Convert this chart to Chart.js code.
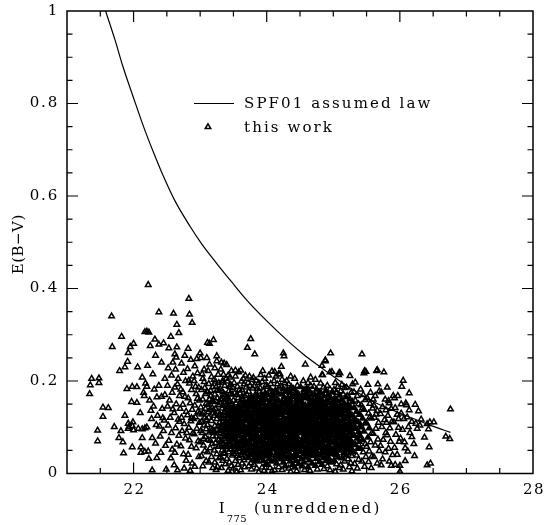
<!DOCTYPE html>
<html>
<head>
<meta charset="utf-8">
<script src="https://cdn.jsdelivr.net/npm/chart.js"></script>
<style>
  html, body { margin: 0; padding: 0; background: #fff; }
  canvas { display: block; }
</style>
</head>
<body>
<canvas id="c" width="545" height="525"></canvas>
<script>
// --- DATOS ---
// curva SPF01 (leída a ojo del gráfico)
const lawX = [21.58, 21.72, 21.84, 22.00, 22.15, 22.30, 22.45, 22.62, 22.85, 23.02, 23.25, 23.48, 23.70, 24.00, 24.30, 24.55, 24.80, 25.05, 25.30, 25.65, 25.92, 26.20, 26.48, 26.76];
const lawY = [1.000, 0.938, 0.880, 0.812, 0.750, 0.694, 0.642, 0.590, 0.534, 0.497, 0.454, 0.413, 0.375, 0.330, 0.289, 0.258, 0.231, 0.205, 0.181, 0.152, 0.135, 0.119, 0.103, 0.089];

const xTickLabels = [22, 24, 26, 28];
const yTickLabels = [0, 0.2, 0.4, 0.6, 0.8, 1];

// puntos "this work", [I775, E(B-V)], por zonas
const leftPts = [
  [21.37,0.205],[21.48,0.206],[21.35,0.191],[21.48,0.196],[21.34,0.172],[21.46,0.093],[21.46,0.070],
  [21.54,0.143],[21.62,0.142],[21.54,0.123],[21.67,0.340],[21.68,0.274],[21.82,0.296],[21.71,0.101],[21.87,0.125],[21.85,0.044],
  [21.81,0.092],[21.78,0.077],[21.84,0.068],[21.92,0.097],[21.92,0.108],[21.99,0.111],[21.98,0.103],[21.98,0.057],[21.90,0.183],
  [21.98,0.188],[21.97,0.155],[21.91,0.242],[21.87,0.230],[21.79,0.222],[21.92,0.261],[21.95,0.274],[21.93,0.101],[22.00,0.094],
  [22.22,0.408],[22.38,0.349],[22.17,0.306],[22.20,0.307],[22.23,0.305],[22.32,0.290],[22.00,0.281],[22.25,0.276],[22.38,0.279],
  [22.45,0.282],[22.33,0.255],[22.06,0.230],[22.21,0.233],[22.05,0.187],[22.05,0.153],[22.10,0.131],[22.26,0.136],[22.15,0.175],
  [22.18,0.195],[22.13,0.208],[22.20,0.188],[22.16,0.168],[22.35,0.165],[22.42,0.166],[22.47,0.170],[22.34,0.105],[22.20,0.100],
  [22.17,0.098],[22.13,0.096],[22.07,0.097],[22.11,0.057],[22.13,0.077],[22.17,0.047],[22.22,0.048],[22.11,0.045],[22.23,0.032],
  [22.35,0.034],[22.28,0.007],[22.49,0.009],[22.33,0.065],[22.28,0.077],[22.40,0.080],[22.44,0.120],[22.30,0.145],[22.38,0.190],
  [22.47,0.205],[22.29,0.215],[22.42,0.240],[22.46,0.115],[22.48,0.060],[22.41,0.045],[22.24,0.158],[22.36,0.125],[22.27,0.118],
  [22.43,0.140],[22.31,0.182],[22.45,0.092],[22.39,0.102]
];

const midPts = [
  [22.53,0.271],[22.56,0.296],[22.60,0.346],[22.52,0.228],[22.57,0.212],[22.51,0.190],[22.58,0.175],[22.54,0.158],[22.59,0.139],
  [22.55,0.121],[22.52,0.104],[22.57,0.088],[22.53,0.071],[22.58,0.052],[22.56,0.033],[22.51,0.145],[22.59,0.240],
  [22.62,0.258],[22.64,0.251],[22.65,0.322],[22.65,0.273],[22.68,0.304],[22.61,0.018],[22.66,0.007],[22.63,0.225],[22.67,0.205],
  [22.62,0.186],[22.69,0.168],[22.64,0.150],[22.61,0.131],[22.67,0.117],[22.63,0.098],[22.68,0.082],[22.65,0.063],[22.62,0.045],
  [22.69,0.112],[22.66,0.193],
  [22.76,0.011],[22.72,0.238],[22.75,0.218],[22.78,0.200],[22.71,0.182],[22.77,0.166],[22.74,0.149],[22.79,0.134],[22.72,0.121],
  [22.76,0.107],[22.73,0.092],[22.78,0.076],[22.71,0.059],[22.75,0.042],[22.79,0.028],[22.74,0.176],[22.77,0.255],[22.70,0.140],
  [22.83,0.378],[22.84,0.344],[22.88,0.326],[22.82,0.270],[22.86,0.246],[22.81,0.226],[22.89,0.210],[22.84,0.195],[22.87,0.181],
  [22.82,0.163],[22.85,0.152],[22.88,0.138],[22.81,0.126],[22.86,0.113],[22.83,0.099],[22.89,0.087],[22.84,0.072],[22.87,0.058],
  [22.82,0.041],[22.88,0.022],[22.85,0.006],[22.80,0.088],[22.87,0.120],[22.83,0.201],
  [22.92,0.232],[22.96,0.217],[22.91,0.200],[22.98,0.186],[22.94,0.172],[22.99,0.158],[22.92,0.147],[22.97,0.134],[22.93,0.122],
  [22.99,0.110],[22.95,0.097],[22.91,0.085],[22.97,0.070],[22.94,0.055],[22.98,0.036],[22.92,0.015],[22.96,0.162],[22.93,0.188],
  [22.99,0.130],[22.95,0.248],[22.90,0.118],
  [23.00,0.260],[23.01,0.250],[23.03,0.215],[23.06,0.198],[23.02,0.181],[23.08,0.172],[23.04,0.160],[23.09,0.151],[23.01,0.143],
  [23.05,0.132],[23.07,0.121],[23.02,0.112],[23.06,0.104],[23.09,0.096],[23.03,0.088],[23.08,0.079],[23.00,0.068],[23.05,0.061],
  [23.07,0.049],[23.02,0.038],[23.09,0.027],[23.04,0.016],[23.06,0.225],[23.08,0.140],[23.01,0.092],[23.04,0.205],[23.07,0.185],
  [23.03,0.128],[23.09,0.116],[23.05,0.075],
  [23.10,0.250],[23.11,0.283],[23.14,0.281],[23.14,0.236],[23.12,0.222],[23.17,0.209],[23.13,0.194],[23.19,0.187],[23.11,0.176],
  [23.16,0.168],[23.18,0.157],[23.12,0.149],[23.15,0.138],[23.19,0.130],[23.13,0.121],[23.17,0.114],[23.11,0.105],[23.16,0.097],
  [23.14,0.089],[23.19,0.081],[23.12,0.073],[23.18,0.064],[23.15,0.055],[23.11,0.046],[23.17,0.036],[23.13,0.024],[23.19,0.012],
  [23.16,0.179],[23.14,0.160],[23.18,0.142],[23.12,0.133],[23.17,0.092],[23.15,0.071],[23.10,0.115],
  [23.20,0.289],[23.25,0.254],[23.25,0.243],[23.22,0.228],[23.27,0.214],[23.21,0.203],[23.28,0.196],[23.24,0.187],[23.29,0.179],
  [23.22,0.171],[23.26,0.163],[23.20,0.155],[23.28,0.148],[23.23,0.140],[23.27,0.133],[23.21,0.125],[23.25,0.118],[23.29,0.110],
  [23.22,0.103],[23.26,0.095],[23.20,0.088],[23.24,0.080],[23.28,0.073],[23.23,0.066],[23.27,0.058],[23.21,0.050],[23.25,0.042],
  [23.29,0.033],[23.22,0.024],[23.26,0.015],[23.24,0.008],[23.23,0.157],[23.28,0.126],[23.21,0.091],[23.26,0.181],[23.29,0.061],
  [23.23,0.199],[23.27,0.102],[23.20,0.137],
  [23.32,0.240],[23.36,0.238],[23.31,0.225],[23.35,0.214],[23.39,0.205],[23.33,0.197],[23.37,0.190],[23.30,0.183],[23.34,0.176],
  [23.38,0.169],[23.31,0.162],[23.36,0.155],[23.39,0.148],[23.33,0.141],[23.37,0.134],[23.30,0.127],[23.35,0.120],[23.39,0.113],
  [23.32,0.106],[23.36,0.099],[23.30,0.092],[23.34,0.085],[23.38,0.078],[23.31,0.071],[23.35,0.064],[23.39,0.057],[23.33,0.050],
  [23.37,0.043],[23.30,0.036],[23.34,0.028],[23.38,0.020],[23.32,0.012],[23.36,0.171],[23.33,0.118],[23.38,0.137],[23.31,0.087],
  [23.37,0.058],[23.35,0.146],[23.32,0.159],[23.39,0.095],[23.34,0.201],[23.36,0.075],
  [23.40,0.235],[23.42,0.212],[23.45,0.208],[23.47,0.222],[23.41,0.199],[23.46,0.192],[23.49,0.185],[23.43,0.178],[23.48,0.171],
  [23.40,0.165],[23.44,0.158],[23.47,0.151],[23.42,0.145],[23.49,0.138],[23.45,0.132],[23.41,0.125],[23.46,0.119],[23.43,0.112],
  [23.48,0.106],[23.40,0.099],[23.44,0.093],[23.47,0.086],[23.42,0.080],[23.49,0.073],[23.45,0.067],[23.41,0.060],[23.46,0.053],
  [23.43,0.046],[23.48,0.039],[23.40,0.032],[23.44,0.024],[23.47,0.016],[23.42,0.006],[23.45,0.172],[23.48,0.148],[23.41,0.141],
  [23.46,0.101],[23.43,0.068],[23.49,0.116],[23.44,0.188],[23.47,0.128],[23.42,0.094],[23.40,0.052],[23.48,0.078],[23.45,0.155]
];

const corePts = [
  [23.53,0.223],[23.58,0.219],[23.53,0.210],[23.51,0.196],[23.56,0.188],[23.59,0.181],[23.52,0.174],[23.55,0.170],[23.57,0.163],
  [23.50,0.158],[23.54,0.152],[23.58,0.147],[23.51,0.141],[23.56,0.137],[23.53,0.131],[23.59,0.127],[23.50,0.121],[23.55,0.117],
  [23.57,0.112],[23.52,0.106],[23.58,0.101],[23.54,0.097],[23.51,0.092],[23.56,0.087],[23.59,0.082],[23.53,0.078],[23.50,0.072],
  [23.55,0.068],[23.57,0.062],[23.52,0.057],[23.58,0.053],[23.54,0.047],[23.51,0.043],[23.56,0.038],[23.59,0.033],[23.53,0.027],
  [23.57,0.019],[23.50,0.011],[23.55,0.004],[23.52,0.135],[23.58,0.115],[23.54,0.084],
  [23.61,0.223],[23.65,0.205],[23.68,0.212],[23.62,0.199],[23.66,0.193],[23.69,0.186],[23.63,0.180],[23.60,0.173],[23.67,0.168],
  [23.64,0.161],[23.61,0.156],[23.68,0.150],[23.65,0.145],[23.62,0.139],[23.69,0.134],[23.66,0.129],[23.63,0.124],[23.60,0.118],
  [23.67,0.114],[23.64,0.108],[23.61,0.103],[23.68,0.098],[23.65,0.093],[23.62,0.089],[23.69,0.084],[23.66,0.079],[23.63,0.074],
  [23.60,0.069],[23.67,0.064],[23.64,0.059],[23.61,0.054],[23.68,0.049],[23.65,0.044],[23.62,0.039],[23.69,0.034],[23.66,0.029],
  [23.63,0.022],[23.67,0.014],[23.61,0.007],[23.64,0.132],[23.60,0.095],[23.66,0.061],[23.63,0.165],
  [23.76,0.291],[23.71,0.272],[23.74,0.210],[23.78,0.203],[23.72,0.196],[23.75,0.190],[23.79,0.184],[23.73,0.177],[23.70,0.171],
  [23.77,0.166],[23.74,0.160],[23.71,0.154],[23.78,0.149],[23.75,0.143],[23.72,0.138],[23.79,0.132],[23.76,0.127],[23.73,0.121],
  [23.70,0.116],[23.77,0.111],[23.74,0.105],[23.71,0.100],[23.78,0.095],[23.75,0.090],[23.72,0.085],[23.79,0.080],[23.76,0.075],
  [23.73,0.070],[23.70,0.065],[23.77,0.060],[23.74,0.055],[23.71,0.050],[23.78,0.045],[23.75,0.040],[23.72,0.035],[23.79,0.029],
  [23.76,0.023],[23.73,0.016],[23.77,0.009],[23.70,0.140],[23.78,0.118],[23.73,0.088],[23.76,0.057],
  [23.82,0.258],[23.80,0.207],[23.84,0.201],[23.88,0.196],[23.81,0.189],[23.86,0.183],[23.89,0.177],[23.83,0.171],[23.87,0.166],
  [23.80,0.160],[23.85,0.155],[23.88,0.150],[23.82,0.144],[23.86,0.139],[23.89,0.134],[23.83,0.128],[23.87,0.123],[23.81,0.118],
  [23.84,0.113],[23.88,0.108],[23.82,0.102],[23.85,0.097],[23.89,0.092],[23.83,0.087],[23.86,0.082],[23.80,0.077],[23.84,0.072],
  [23.87,0.067],[23.81,0.062],[23.85,0.057],[23.88,0.052],[23.82,0.047],[23.86,0.042],[23.89,0.037],[23.83,0.032],[23.87,0.026],
  [23.81,0.019],[23.85,0.011],[23.88,0.003],[23.84,0.136],[23.80,0.110],[23.87,0.094],[23.83,0.064],
  [23.94,0.222],[23.91,0.213],[23.97,0.205],[23.93,0.198],[23.99,0.191],[23.90,0.185],[23.95,0.179],[23.98,0.173],[23.92,0.167],
  [23.96,0.162],[23.90,0.156],[23.94,0.151],[23.98,0.146],[23.91,0.140],[23.95,0.135],[23.99,0.130],[23.93,0.124],[23.97,0.119],
  [23.90,0.114],[23.94,0.109],[23.98,0.104],[23.92,0.099],[23.96,0.094],[23.99,0.089],[23.93,0.084],[23.97,0.079],[23.91,0.074],
  [23.95,0.069],[23.98,0.064],[23.92,0.059],[23.96,0.054],[23.90,0.049],[23.94,0.044],[23.97,0.039],[23.91,0.034],[23.95,0.028],
  [23.99,0.021],[23.93,0.013],[23.96,0.006],[23.92,0.128],[23.98,0.112],[23.95,0.081],[23.91,0.092],
  [24.08,0.221],[24.03,0.212],[24.06,0.194],[24.01,0.188],[24.05,0.182],[24.09,0.176],[24.02,0.170],[24.07,0.164],[24.00,0.159],
  [24.04,0.153],[24.08,0.148],[24.01,0.143],[24.06,0.138],[24.09,0.132],[24.03,0.127],[24.07,0.122],[24.00,0.117],[24.05,0.112],
  [24.08,0.107],[24.02,0.102],[24.06,0.097],[24.09,0.092],[24.03,0.087],[24.07,0.082],[24.01,0.077],[24.04,0.072],[24.08,0.067],
  [24.02,0.062],[24.05,0.057],[24.09,0.052],[24.03,0.047],[24.06,0.042],[24.00,0.037],[24.04,0.032],[24.07,0.026],[24.01,0.019],
  [24.05,0.012],[24.08,0.005],[24.04,0.120],[24.00,0.098],[24.07,0.150],[24.02,0.080],[24.06,0.061],
  [24.12,0.220],[24.14,0.210],[24.18,0.215],[24.11,0.200],[24.16,0.193],[24.19,0.186],[24.13,0.180],[24.17,0.174],[24.10,0.168],
  [24.15,0.162],[24.18,0.157],[24.12,0.151],[24.16,0.146],[24.19,0.141],[24.13,0.135],[24.17,0.130],[24.11,0.125],[24.14,0.120],
  [24.18,0.115],[24.12,0.110],[24.15,0.105],[24.19,0.100],[24.13,0.095],[24.16,0.090],[24.10,0.085],[24.14,0.080],[24.17,0.075],
  [24.11,0.070],[24.15,0.065],[24.18,0.060],[24.12,0.055],[24.16,0.050],[24.19,0.045],[24.13,0.040],[24.17,0.035],[24.11,0.029],
  [24.15,0.022],[24.18,0.014],[24.12,0.007],[24.16,0.118],[24.10,0.143],[24.14,0.097],[24.18,0.071],
  [24.22,0.231],[24.25,0.260],[24.26,0.254],[24.20,0.215],[24.23,0.203],[24.27,0.196],[24.21,0.189],[24.25,0.183],[24.28,0.177],
  [24.22,0.171],[24.26,0.165],[24.29,0.159],[24.23,0.154],[24.27,0.148],[24.20,0.143],[24.24,0.138],[24.28,0.132],[24.21,0.127],
  [24.25,0.122],[24.29,0.117],[24.22,0.112],[24.26,0.107],[24.20,0.102],[24.23,0.097],[24.27,0.092],[24.21,0.087],[24.24,0.082],
  [24.28,0.077],[24.22,0.072],[24.25,0.067],[24.29,0.062],[24.23,0.057],[24.26,0.052],[24.20,0.047],[24.24,0.042],[24.27,0.037],
  [24.21,0.031],[24.25,0.024],[24.28,0.016],[24.23,0.008],[24.26,0.135],[24.21,0.110],[24.28,0.090],[24.24,0.064],
  [24.30,0.200],[24.33,0.193],[24.37,0.187],[24.31,0.181],[24.35,0.175],[24.39,0.169],[24.32,0.164],[24.36,0.158],[24.30,0.153],
  [24.34,0.148],[24.38,0.142],[24.31,0.137],[24.35,0.132],[24.39,0.127],[24.33,0.122],[24.37,0.117],[24.30,0.112],[24.34,0.107],
  [24.38,0.102],[24.32,0.097],[24.36,0.092],[24.39,0.087],[24.33,0.082],[24.37,0.077],[24.31,0.072],[24.35,0.067],[24.38,0.062],
  [24.32,0.057],[24.36,0.052],[24.30,0.047],[24.34,0.042],[24.37,0.037],[24.31,0.032],[24.35,0.026],[24.39,0.019],[24.33,0.011],
  [24.36,0.004],[24.32,0.145],[24.38,0.120],[24.34,0.094],[24.30,0.070],[24.36,0.210],
  [24.42,0.205],[24.46,0.190],[24.40,0.183],[24.44,0.177],[24.48,0.171],[24.41,0.165],[24.45,0.160],[24.49,0.154],[24.43,0.149],
  [24.47,0.144],[24.40,0.139],[24.44,0.134],[24.48,0.129],[24.42,0.124],[24.46,0.119],[24.49,0.114],[24.43,0.109],[24.47,0.104],
  [24.41,0.099],[24.45,0.094],[24.48,0.089],[24.42,0.084],[24.46,0.079],[24.40,0.074],[24.44,0.069],[24.47,0.064],[24.41,0.059],
  [24.45,0.054],[24.49,0.049],[24.43,0.044],[24.46,0.039],[24.40,0.034],[24.44,0.028],[24.48,0.021],[24.42,0.013],[24.45,0.005],
  [24.47,0.131],[24.41,0.112],[24.43,0.087],[24.48,0.062],[24.45,0.168],
  [24.58,0.236],[24.55,0.200],[24.51,0.187],[24.56,0.181],[24.59,0.175],[24.53,0.169],[24.57,0.163],[24.50,0.158],[24.54,0.152],
  [24.58,0.147],[24.52,0.142],[24.55,0.137],[24.59,0.132],[24.53,0.127],[24.56,0.122],[24.50,0.117],[24.54,0.112],[24.57,0.107],
  [24.51,0.102],[24.55,0.097],[24.58,0.092],[24.52,0.087],[24.56,0.082],[24.59,0.077],[24.53,0.072],[24.57,0.067],[24.50,0.062],
  [24.54,0.057],[24.58,0.052],[24.51,0.047],[24.55,0.042],[24.59,0.037],[24.52,0.031],[24.56,0.024],[24.53,0.016],[24.57,0.008],
  [24.54,0.140],[24.50,0.095],[24.58,0.115],[24.52,0.060],
  [24.62,0.196],[24.66,0.190],[24.60,0.184],[24.64,0.178],[24.68,0.172],[24.61,0.166],[24.65,0.161],[24.69,0.155],[24.63,0.150],
  [24.67,0.145],[24.60,0.140],[24.64,0.135],[24.68,0.130],[24.62,0.125],[24.66,0.120],[24.69,0.115],[24.63,0.110],[24.67,0.105],
  [24.61,0.100],[24.65,0.095],[24.68,0.090],[24.62,0.085],[24.66,0.080],[24.60,0.075],[24.64,0.070],[24.67,0.065],[24.61,0.060],
  [24.65,0.055],[24.69,0.050],[24.63,0.045],[24.66,0.040],[24.60,0.035],[24.64,0.029],[24.68,0.022],[24.62,0.014],[24.65,0.006],
  [24.67,0.142],[24.61,0.118],[24.63,0.088],[24.69,0.068],[24.66,0.208],
  [24.73,0.203],[24.71,0.188],[24.75,0.182],[24.79,0.176],[24.72,0.170],[24.76,0.164],[24.70,0.159],[24.74,0.153],[24.78,0.148],
  [24.71,0.143],[24.75,0.138],[24.79,0.133],[24.73,0.128],[24.77,0.123],[24.70,0.118],[24.74,0.113],[24.78,0.108],[24.72,0.103],
  [24.76,0.098],[24.79,0.093],[24.73,0.088],[24.77,0.083],[24.71,0.078],[24.75,0.073],[24.78,0.068],[24.72,0.063],[24.76,0.058],
  [24.70,0.053],[24.74,0.048],[24.77,0.043],[24.71,0.038],[24.75,0.032],[24.79,0.025],[24.73,0.017],[24.76,0.009],[24.78,0.135],
  [24.72,0.110],[24.74,0.080],[24.70,0.095],
  [24.88,0.245],[24.83,0.233],[24.88,0.243],[24.83,0.213],[24.84,0.213],[24.81,0.195],[24.85,0.186],[24.89,0.179],[24.82,0.173],
  [24.86,0.167],[24.80,0.161],[24.84,0.156],[24.87,0.150],[24.81,0.145],[24.85,0.140],[24.89,0.135],[24.83,0.130],[24.87,0.125],
  [24.80,0.120],[24.84,0.115],[24.88,0.110],[24.82,0.105],[24.86,0.100],[24.89,0.095],[24.83,0.090],[24.87,0.085],[24.81,0.080],
  [24.85,0.075],[24.88,0.070],[24.82,0.065],[24.86,0.060],[24.80,0.055],[24.84,0.050],[24.87,0.045],[24.81,0.040],[24.85,0.034],
  [24.89,0.027],[24.83,0.019],[24.86,0.010],[24.82,0.138],[24.88,0.118],[24.85,0.092],
  [24.96,0.260],[24.95,0.219],[24.98,0.220],[24.91,0.190],[24.95,0.182],[24.99,0.176],[24.92,0.170],[24.96,0.164],[24.90,0.158],
  [24.94,0.153],[24.98,0.147],[24.91,0.142],[24.95,0.137],[24.99,0.132],[24.93,0.127],[24.97,0.122],[24.90,0.117],[24.94,0.112],
  [24.98,0.107],[24.92,0.102],[24.96,0.097],[24.99,0.092],[24.93,0.087],[24.97,0.082],[24.91,0.077],[24.94,0.072],[24.98,0.067],
  [24.92,0.062],[24.95,0.057],[24.99,0.052],[24.93,0.047],[24.96,0.042],[24.90,0.037],[24.94,0.031],[24.97,0.024],[24.91,0.016],
  [24.95,0.007],[24.97,0.144],[24.93,0.108],[24.90,0.085],
  [25.09,0.218],[25.08,0.213],[25.03,0.196],[25.07,0.188],[25.01,0.181],[25.05,0.175],[25.09,0.169],[25.02,0.163],[25.06,0.157],
  [25.00,0.152],[25.04,0.146],[25.08,0.141],[25.01,0.136],[25.05,0.131],[25.09,0.126],[25.03,0.121],[25.07,0.116],[25.00,0.111],
  [25.04,0.106],[25.08,0.101],[25.02,0.096],[25.06,0.091],[25.09,0.086],[25.03,0.081],[25.07,0.076],[25.01,0.071],[25.05,0.066],
  [25.08,0.061],[25.02,0.056],[25.06,0.051],[25.00,0.046],[25.04,0.041],[25.07,0.035],[25.01,0.028],[25.05,0.020],[25.09,0.012],
  [25.03,0.004],[25.06,0.133],[25.02,0.104],[25.08,0.078],
  [25.10,0.217],[25.13,0.192],[25.17,0.185],[25.11,0.178],[25.15,0.171],[25.19,0.165],[25.12,0.159],[25.16,0.153],[25.10,0.147],
  [25.14,0.142],[25.18,0.136],[25.11,0.131],[25.15,0.126],[25.19,0.120],[25.13,0.115],[25.17,0.110],[25.10,0.105],[25.14,0.100],
  [25.18,0.095],[25.12,0.090],[25.16,0.085],[25.19,0.080],[25.13,0.075],[25.17,0.070],[25.11,0.065],[25.14,0.060],[25.18,0.055],
  [25.12,0.050],[25.16,0.045],[25.19,0.039],[25.13,0.033],[25.17,0.026],[25.11,0.018],[25.15,0.009],[25.16,0.118],[25.12,0.140],
  [25.20,0.186],[25.25,0.211],[25.27,0.175],[25.21,0.168],[25.25,0.161],[25.29,0.155],[25.22,0.149],[25.26,0.143],[25.20,0.137],
  [25.24,0.131],[25.28,0.126],[25.21,0.120],[25.25,0.114],[25.29,0.109],[25.23,0.103],[25.27,0.098],[25.20,0.093],[25.24,0.087],
  [25.28,0.082],[25.22,0.076],[25.26,0.071],[25.29,0.066],[25.23,0.060],[25.27,0.055],[25.21,0.050],[25.25,0.044],[25.28,0.038],
  [25.22,0.031],[25.26,0.023],[25.24,0.014],[25.28,0.005],[25.23,0.128],[25.26,0.092]
];

// zona más negra del núcleo
const corePts2 = [
  [23.31,0.098],[23.36,0.131],[23.33,0.067],[23.38,0.109],[23.35,0.044],[23.30,0.152],[23.37,0.082],[23.32,0.124],[23.39,0.061],
  [23.41,0.083],[23.46,0.137],[23.43,0.101],[23.48,0.058],[23.45,0.119],[23.40,0.144],[23.47,0.072],[23.42,0.162],[23.49,0.097],
  [23.52,0.088],[23.57,0.141],[23.54,0.064],[23.59,0.104],[23.56,0.125],[23.51,0.051],
  [23.62,0.112],[23.67,0.071],[23.65,0.152],[23.61,0.041],[23.69,0.121],[23.63,0.098],[23.66,0.046],[23.60,0.135],[23.68,0.083],
  [23.72,0.149],[23.77,0.102],[23.74,0.066],[23.79,0.157],[23.71,0.088],[23.76,0.041],[23.73,0.127],[23.78,0.074],[23.75,0.113],
  [23.81,0.098],[23.86,0.149],[23.83,0.053],[23.88,0.121],[23.85,0.079],[23.80,0.134],[23.87,0.036],[23.82,0.166],[23.89,0.067],
  [23.92,0.071],[23.97,0.141],[23.94,0.098],[23.99,0.048],[23.91,0.121],[23.96,0.086],[23.93,0.158],[23.98,0.059],[23.95,0.113],
  [24.01,0.131],[24.06,0.076],[24.03,0.104],[24.08,0.039],[24.05,0.145],[24.00,0.058],[24.07,0.115],[24.02,0.091],[24.09,0.162],
  [24.13,0.062],[24.18,0.129],[24.15,0.087],[24.11,0.148],[24.17,0.043],[24.12,0.102],[24.19,0.074],[24.14,0.136],[24.16,0.057],
  [24.21,0.079],[24.26,0.118],[24.23,0.045],[24.28,0.152],[24.25,0.094],[24.20,0.128],[24.27,0.058],[24.22,0.141],[24.29,0.103],
  [24.33,0.131],[24.38,0.081],[24.35,0.154],[24.31,0.063],[24.37,0.109],[24.32,0.036],[24.39,0.138],[24.34,0.074],[24.36,0.099],
  [24.41,0.143],[24.46,0.071],[24.43,0.118],[24.48,0.097],[24.45,0.038],[24.40,0.086],[24.47,0.157],[24.42,0.052],[24.49,0.126],
  [24.53,0.089],[24.58,0.129],[24.55,0.058],[24.51,0.134],[24.57,0.076],[24.52,0.109],[24.59,0.044],[24.54,0.164],[24.56,0.101],
  [24.61,0.073],[24.66,0.133],[24.63,0.061],[24.68,0.104],[24.65,0.148],[24.60,0.089],[24.67,0.047],[24.62,0.119],[24.69,0.083],
  [24.73,0.141],[24.78,0.088],[24.75,0.066],[24.71,0.119],[24.77,0.154],[24.72,0.047],[24.79,0.103],[24.74,0.131],[24.76,0.078],
  [24.81,0.108],[24.86,0.071],[24.83,0.147],[24.88,0.052],[24.85,0.124],[24.80,0.083],[24.87,0.098],[24.82,0.039],[24.89,0.141],
  [24.93,0.061],[24.98,0.119],[24.95,0.093],[24.91,0.131],[24.97,0.049],[24.92,0.081],[24.99,0.155],[24.94,0.104],[24.96,0.071],
  [25.01,0.089],[25.06,0.142],[25.03,0.067],[25.08,0.114],[25.05,0.043],[25.00,0.123],[25.07,0.096],[25.02,0.154],[25.09,0.058],
  [25.13,0.097],[25.18,0.063],[25.15,0.129],[25.11,0.052],[25.17,0.104],[25.12,0.078],[25.19,0.145],
  [25.21,0.097],[25.26,0.124],[25.23,0.071],[25.28,0.108],[25.25,0.052],[25.22,0.139],[25.29,0.083]
];

const tailPts = [
  [25.33,0.197],[25.29,0.193],[25.31,0.176],[25.36,0.168],[25.33,0.158],[25.38,0.150],[25.31,0.142],[25.35,0.134],[25.39,0.127],
  [25.32,0.119],[25.37,0.111],[25.30,0.104],[25.34,0.097],[25.38,0.090],[25.31,0.083],[25.36,0.076],[25.39,0.069],[25.33,0.062],
  [25.37,0.054],[25.30,0.047],[25.35,0.039],[25.38,0.030],[25.32,0.021],[25.36,0.011],[25.34,0.115],[25.31,0.063],
  [25.43,0.258],[25.46,0.217],[25.49,0.220],[25.47,0.222],[25.41,0.182],[25.45,0.170],[25.48,0.159],[25.42,0.148],[25.46,0.138],
  [25.40,0.128],[25.44,0.119],[25.48,0.109],[25.42,0.100],[25.46,0.091],[25.40,0.082],[25.44,0.073],[25.48,0.064],[25.41,0.055],
  [25.45,0.046],[25.49,0.036],[25.43,0.026],[25.47,0.015],[25.44,0.142],[25.41,0.105],
  [25.52,0.192],[25.56,0.175],[25.51,0.163],[25.55,0.151],[25.59,0.141],[25.53,0.130],[25.57,0.119],[25.50,0.109],[25.54,0.098],
  [25.58,0.088],[25.52,0.078],[25.56,0.068],[25.50,0.058],[25.54,0.048],[25.58,0.037],[25.53,0.025],[25.57,0.012],[25.55,0.122],
  [25.66,0.224],[25.65,0.222],[25.60,0.160],[25.67,0.193],[25.69,0.178],[25.63,0.168],[25.61,0.147],[25.66,0.136],[25.62,0.121],
  [25.68,0.110],[25.64,0.097],[25.60,0.086],[25.67,0.074],[25.63,0.061],[25.69,0.049],[25.61,0.036],[25.66,0.022],[25.64,0.128],
  [25.76,0.219],[25.72,0.176],[25.78,0.160],[25.74,0.144],[25.71,0.129],[25.77,0.116],[25.73,0.101],[25.79,0.088],[25.75,0.073],
  [25.71,0.060],[25.78,0.046],[25.74,0.031],[25.72,0.018],[25.79,0.137],
  [25.81,0.186],[25.83,0.157],[25.84,0.152],[25.87,0.140],[25.82,0.125],[25.88,0.112],[25.85,0.098],[25.81,0.083],[25.86,0.069],
  [25.83,0.054],[25.89,0.040],[25.84,0.026],[25.87,0.017],[25.80,0.110],
  [25.90,0.168],[25.92,0.163],[25.97,0.168],[25.93,0.142],[25.96,0.127],[25.91,0.111],[25.98,0.099],[25.94,0.084],[25.99,0.069],
  [25.92,0.056],[25.96,0.041],[25.93,0.019],[25.98,0.118],
  [26.05,0.201],[26.03,0.188],[26.14,0.174],[26.09,0.152],[26.10,0.148],[26.23,0.149],[26.76,0.139],[26.14,0.137],[26.28,0.135],
  [26.32,0.117],[26.45,0.111],[26.51,0.111],[26.41,0.107],[26.43,0.096],[26.24,0.108],[26.30,0.104],[26.26,0.097],[26.37,0.078],
  [26.69,0.080],[26.75,0.075],[26.21,0.064],[26.44,0.057],[26.08,0.055],[26.12,0.048],[26.22,0.038],[26.08,0.027],[26.41,0.018],
  [26.46,0.022],[26.00,0.017],[26.00,0.004],[26.02,0.130],[26.06,0.118],[26.11,0.122],[26.04,0.095],[26.15,0.088],[26.01,0.076],
  [26.07,0.068],[26.18,0.112],[26.13,0.101],[26.02,0.150],[26.18,0.079]
];

const toXY = p => ({ x: p[0], y: p[1] });
const thisWork = [...leftPts, ...midPts, ...corePts, ...corePts2, ...tailPts].map(toXY);
const law = lawX.map((x, i) => ({ x: x, y: lawY[i] }));

const SERIF = '"DejaVu Serif", "Liberation Serif", serif';
const TRI_R = 3.2;

// donde los triángulos se solapan tanto que el original se ve negro (elipse del núcleo)
function relleno(c) {
    const p = c.raw;
    if (!p) return 'rgba(0,0,0,0)';
    const u = (p.x - 24.45) / 1.12;
    const v = (p.y - 0.100) / 0.088;
    return (u * u + v * v < 1) ? '#000' : 'rgba(0,0,0,0)';
}

function texto(ctx, s, x, y, size, align, ls) {
    ctx.font = size + 'px ' + SERIF;
    ctx.textAlign = align;
    ctx.letterSpacing = (ls || 0) + 'px';
    ctx.fillText(s, x, y);
}

function triangulo(ctx, x, y, r) {
    ctx.beginPath();
    let a = 0;
    ctx.moveTo(x + Math.sin(a) * r, y - Math.cos(a) * r);
    a += 2 * Math.PI / 3;
    ctx.lineTo(x + Math.sin(a) * r, y - Math.cos(a) * r);
    a += 2 * Math.PI / 3;
    ctx.lineTo(x + Math.sin(a) * r, y - Math.cos(a) * r);
    ctx.closePath();
    ctx.stroke();
}

// --- MARCO, TICKS, ETIQUETAS, LEYENDA ---
const marco = {
    id: 'marco',
    afterDatasetsDraw(chart) {
        const { ctx, chartArea: a, scales: { x, y } } = chart;
        ctx.save();
        ctx.strokeStyle = '#000';
        ctx.fillStyle = '#000';
        ctx.lineWidth = 1.5;
        ctx.strokeRect(a.left, a.top, a.right - a.left, a.bottom - a.top);

        ctx.lineWidth = 1.2;
        ctx.beginPath();
        for (let i = 1; i < 14; i++) {
            const px = x.getPixelForValue(21 + i * 0.5);
            const len = (i % 4 === 2) ? 11 : 5.5;
            ctx.moveTo(px, a.bottom); ctx.lineTo(px, a.bottom - len);
            ctx.moveTo(px, a.top); ctx.lineTo(px, a.top + len);
        }
        for (let i = 1; i < 20; i++) {
            const py = y.getPixelForValue(i * 0.05);
            const len = (i % 4 === 0) ? 11 : 5.5;
            ctx.moveTo(a.left, py); ctx.lineTo(a.left + len, py);
            ctx.moveTo(a.right, py); ctx.lineTo(a.right - len, py);
        }
        ctx.stroke();

        ctx.textBaseline = 'middle';
        xTickLabels.forEach(v => texto(ctx, String(v), x.getPixelForValue(v) + 1, a.bottom + 17, 15, 'center', 1.5));
        yTickLabels.forEach(v => texto(ctx, String(v), a.left - 8, y.getPixelForValue(v), 15, 'right', 1.8));

        // eje Y
        ctx.save();
        ctx.translate(19, (a.top + a.bottom) / 2 + 2);
        ctx.rotate(-Math.PI / 2);
        texto(ctx, 'E(B\u2212V)', 0, 0, 15, 'center', 0.5);
        ctx.restore();

        // eje X con subíndice
        ctx.textBaseline = 'alphabetic';
        ctx.font = '15px ' + SERIF; ctx.letterSpacing = '2px';
        const wI = ctx.measureText('I').width;
        const wR = ctx.measureText(' (unreddened)').width;
        ctx.font = '10px ' + SERIF; ctx.letterSpacing = '0.5px';
        const wS = ctx.measureText('775').width;
        let x0 = (a.left + a.right) / 2 - (wI + wS + wR) / 2;
        texto(ctx, 'I', x0, 513, 15, 'left', 2);
        texto(ctx, '775', x0 + wI, 522, 10, 'left', 0.5);
        texto(ctx, ' (unreddened)', x0 + wI + wS, 513, 15, 'left', 2);

        // leyenda
        ctx.lineWidth = 1.2;
        ctx.beginPath(); ctx.moveTo(194, 103.5); ctx.lineTo(234, 103.5); ctx.stroke();
        ctx.lineWidth = 1.5;
        triangulo(ctx, 208, 127, TRI_R);
        ctx.textBaseline = 'middle';
        texto(ctx, 'SPF01 assumed law', 244, 104, 15, 'left', 2.1);
        texto(ctx, 'this work', 244, 128, 15, 'left', 2.1);
        ctx.restore();
    }
};

new Chart(document.getElementById('c'), {
    type: 'scatter',
    data: {
        datasets: [
            {
                label: 'this work',
                data: thisWork,
                pointStyle: 'triangle',
                pointRadius: TRI_R,
                pointBorderWidth: 1.5,
                pointBorderColor: '#000',
                pointBackgroundColor: relleno
            },
            {
                type: 'line',
                label: 'SPF01 assumed law',
                data: law,
                showLine: true,
                borderColor: '#000',
                borderWidth: 1.2,
                pointRadius: 0,
                cubicInterpolationMode: 'monotone',
                fill: false
            }
        ]
    },
    options: {
        responsive: false,
        animation: false,
        events: [],
        layout: { padding: { left: 67, right: 12, top: 11, bottom: 51.5 } },
        plugins: { legend: { display: false }, tooltip: { enabled: false } },
        scales: {
            x: { type: 'linear', min: 21, max: 28, display: false },
            y: { type: 'linear', min: 0, max: 1, display: false }
        }
    },
    plugins: [marco]
});
</script>
</body>
</html>
